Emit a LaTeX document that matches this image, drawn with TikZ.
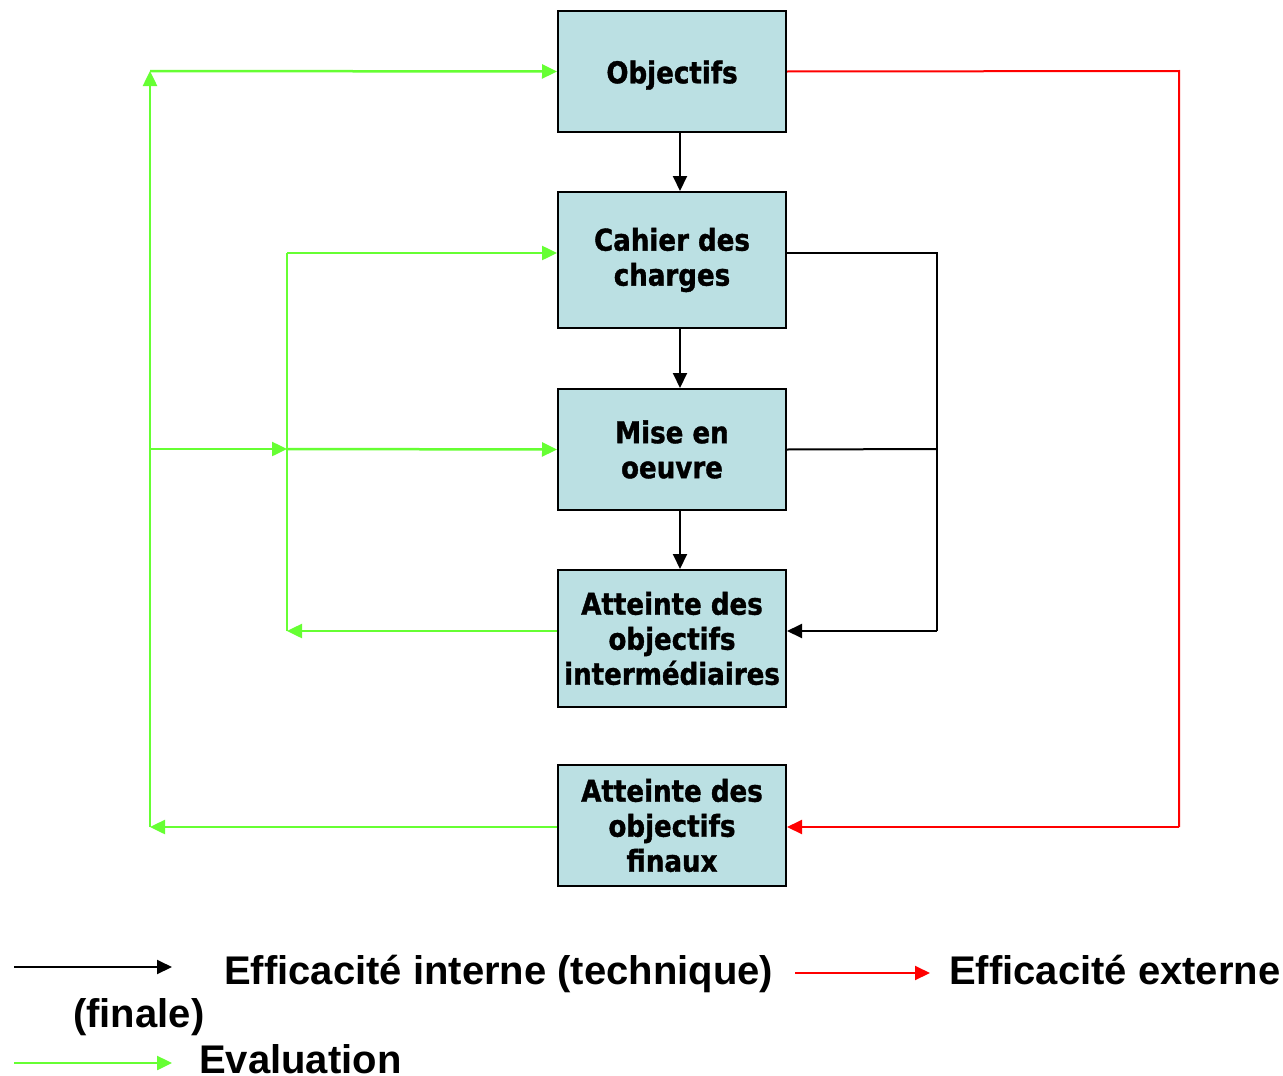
\documentclass[tikz,border=0pt]{standalone}
\usepackage{fontspec}
\usetikzlibrary{arrows.meta,calc}
\newfontfamily\boxfont[FakeStretch=0.87,FakeBold=1.2]{DejaVu Sans Bold}
\newfontfamily\legfont{Liberation Sans Bold}
\definecolor{boxfill}{HTML}{BBE0E3}
\definecolor{evalgreen}{HTML}{66FF33}
\definecolor{extred}{HTML}{FF0000}
\tikzset{
  stepbox/.style={draw=black, line width=2pt, fill=boxfill, minimum width=228pt, inner sep=0pt,
    align=center, font=\boxfont\fontsize{30}{35}\selectfont,
    execute at begin node={\rule{0pt}{30pt}}},
  tip/.style={-{Triangle[length=15pt,width=14pt]}},
  blk/.style={black, line width=2pt},
  grn/.style={evalgreen, line width=2.5pt},
  rd/.style={extred, line width=2pt},
  legtext/.style={anchor=base west, inner sep=0pt, font=\legfont\fontsize{40}{48}\selectfont}
}
\begin{document}
\begin{tikzpicture}[x=1pt,y=-1pt]
\useasboundingbox (0,0) rectangle (1283,1076);
% boxes
\node[stepbox, minimum height=121pt] (obj) at (672,71.5) {Objectifs};
\node[stepbox, minimum height=136pt] (cah) at (672,260) {Cahier des\\charges};
\node[stepbox, minimum height=121pt] (mise) at (672,449.5) {Mise en\\oeuvre};
\node[stepbox, minimum height=137pt] (inter) at (672,638.5) {Atteinte des\\objectifs\\intermédiaires};
\node[stepbox, minimum height=121pt] (fin) at (672,825.5) {Atteinte des\\objectifs\\finaux};
% corner coordinates
\coordinate (gOutTop) at (150,71);
\coordinate (gOutMid) at (150,449);
\coordinate (gOutBot) at (150,827);
\coordinate (gInTop) at (287,253);
\coordinate (gInMid) at (287,449);
\coordinate (gInBot) at (287,631);
\coordinate (bTop) at (937,253);
\coordinate (bMid) at (937,449);
\coordinate (bBot) at (937,631);
\coordinate (rTop) at (1179,71);
\coordinate (rBot) at (1179,827);
% black flow
\draw[blk, tip] ([xshift=8pt]obj.south) -- ([xshift=8pt]cah.north);
\draw[blk, tip] ([xshift=8pt]cah.south) -- ([xshift=8pt]mise.north);
\draw[blk, tip] ([xshift=8pt]mise.south) -- ([xshift=8pt]inter.north);
\draw[blk] ([yshift=7pt]cah.east) -- (bTop) -- (bBot);
\draw[blk] (mise.east) -- (bMid);
\draw[blk, tip] (bBot) -- ([yshift=7.5pt]inter.east);
% red
\draw[rd] (obj.east) -- (rTop) -- (rBot);
\draw[rd, tip] (rBot) -- ([yshift=-1.5pt]fin.east);
% green inner loop
\draw[grn, tip] ([yshift=7.5pt]inter.west) -- (gInBot);
\draw[grn] (gInBot) -- (gInTop);
\draw[grn, tip] (gInTop) -- ([yshift=7pt]cah.west);
% green outer loop
\draw[grn, tip] ([yshift=-1.5pt]fin.west) -- (gOutBot);
\draw[grn, tip] (gOutBot) -- (gOutTop);
\draw[grn, tip] (gOutTop) -- (obj.west);
\draw[grn, tip] (gOutMid) -- (gInMid);
\draw[grn, tip] (gInMid) -- (mise.west);
% legend
\coordinate (l1a) at (14,967);
\coordinate (l1b) at (172,967);
\coordinate (l2a) at (795,973);
\coordinate (l2b) at (930,973);
\coordinate (l3a) at (14,1063);
\coordinate (l3b) at (172,1063);
\draw[blk, tip] (l1a) -- (l1b);
\draw[rd, tip] (l2a) -- (l2b);
\draw[grn, tip] (l3a) -- (l3b);
\node[legtext] (t1) at (224,984) {Efficacité interne (technique)};
\node[legtext] (t2) at (949,984) {Efficacité externe};
\node[legtext] (t3) at (73,1027) {(finale)};
\node[legtext] (t4) at (199,1073) {Evaluation};
\end{tikzpicture}
\end{document}
